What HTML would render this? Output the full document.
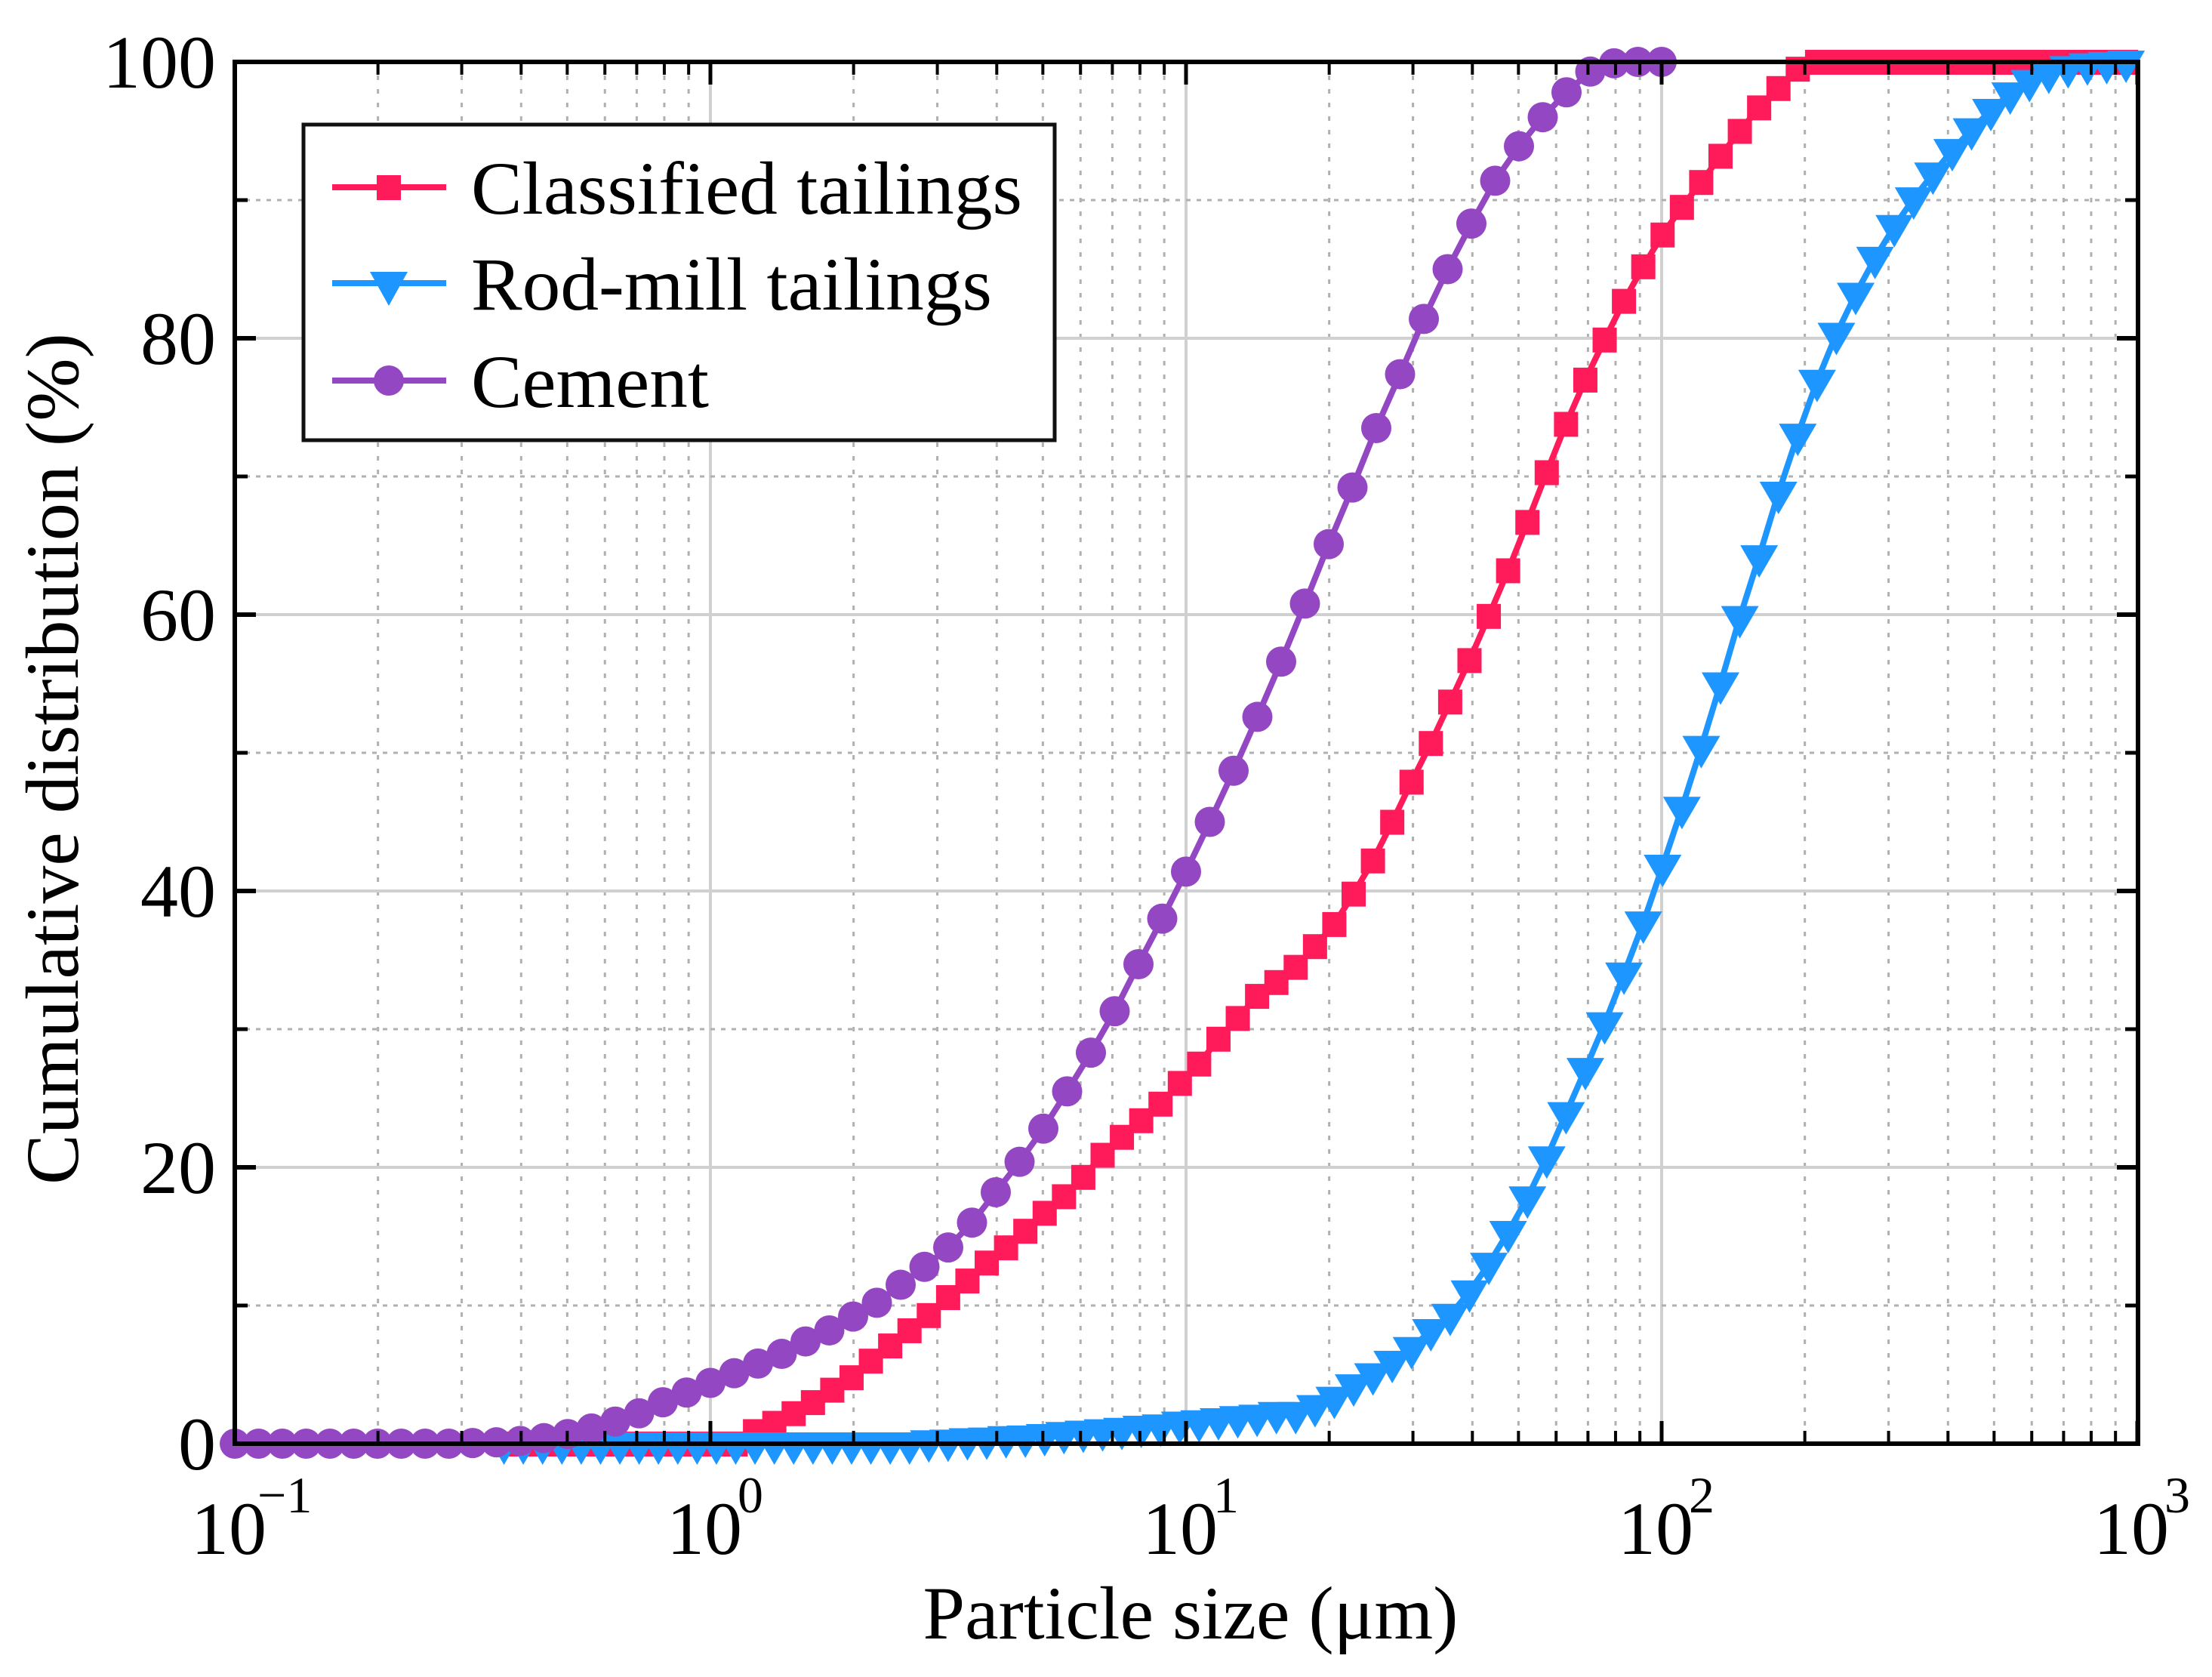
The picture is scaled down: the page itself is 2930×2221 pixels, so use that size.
<!DOCTYPE html>
<html><head><meta charset="utf-8"><title>Cumulative particle size distribution</title>
<style>html,body{margin:0;padding:0;background:#fff}svg{display:block}</style></head>
<body>
<svg id="chart" xmlns="http://www.w3.org/2000/svg" width="2930" height="2221" viewBox="0 0 2930 2221" font-family="'Liberation Serif', serif">
<rect width="2930" height="2221" fill="#fff"/>
<g id="grid"></g>
<g id="series"></g>
<g id="axes"></g>
<text x="0" y="0" font-size="100" text-anchor="middle" transform="translate(103,1005) rotate(-90)">Cumulative distribution (%)</text>
<text x="1577" y="2170" font-size="100" text-anchor="middle">Particle size (μm)</text>
<g>
  <rect x="402" y="165" width="995" height="418" fill="#fff" stroke="#111" stroke-width="5"/>
  <g>
    <line x1="440" y1="248" x2="591" y2="248" stroke="#FF1A5A" stroke-width="8"/>
    <rect x="499" y="232" width="32" height="33" fill="#FF1A5A"/>
    <text x="624" y="283" font-size="100" textLength="730" lengthAdjust="spacingAndGlyphs">Classified tailings</text>
  </g>
  <g>
    <line x1="440" y1="375" x2="591" y2="375" stroke="#1E96FF" stroke-width="8"/>
    <polygon points="490,360 540,360 515,405" fill="#1E96FF"/>
    <text x="624" y="410" font-size="100" textLength="690" lengthAdjust="spacingAndGlyphs">Rod-mill tailings</text>
  </g>
  <g>
    <line x1="440" y1="504" x2="591" y2="504" stroke="#9447C2" stroke-width="8"/>
    <ellipse cx="515" cy="504" rx="20" ry="20" fill="#9447C2"/>
    <text x="624" y="539" font-size="100" textLength="315" lengthAdjust="spacingAndGlyphs">Cement</text>
  </g>
</g>
</svg>
<script>
// ---- data ----
const yTicks = [0, 20, 40, 60, 80, 100];
const yTickLabels = ["0", "20", "40", "60", "80", "100"];
const xDecades = [-1, 0, 1, 2, 3];
const xTickExponents = ["-1", "0", "1", "2", "3"];
// shared sampling grid for tailings (log10 of size)
const tailingsLogStart = -0.434;
const tailingsLogStep = 0.0406;
const cementLogStart = -1;
const cementLogStep = 0.05;
const classifiedValues = [0,0,0,0,0,0,0,0,0,0,0,0,0,
 0.9,1.5,2.2,3.0,3.9,4.8,6.0,7.1,8.2,9.3,10.6,11.8,13.1,14.2,15.4,16.7,17.9,19.3,20.9,22.2,23.4,24.6,26.1,27.5,29.3,30.8,32.4,33.4,34.5,36.0,37.6,39.8,
 42.2,45.0,47.9,50.7,53.7,56.7,59.9,63.2,66.7,70.3,73.8,77.0,79.9,82.7,85.2,87.5,89.5,91.3,93.2,95.0,96.7,98.1,99.5,
 100,100,100,100,100,100,100,100,100,100,100,100,100,100,100,100,100];
const rodMillValues = [0,0,0,0,0,0,0,0,0,0,0,0,0,0,0,0,0,0,0,0,0,0,
 0.15,0.2,0.3,0.35,0.45,0.5,0.6,0.75,0.85,0.95,1.05,1.2,1.3,1.5,1.6,1.75,1.9,2.0,2.2,
 2.2,2.7,3.3,4.2,5.0,5.9,6.9,8.2,9.3,11.0,13.0,15.3,17.8,20.7,23.9,27.1,30.4,34.0,37.7,41.8,46.0,50.4,55.0,59.8,64.2,68.8,73.0,
 76.9,80.3,83.2,85.8,88.1,90.1,91.9,93.6,95.1,96.5,97.7,98.6,99.2,99.6,99.8,99.9,100];
const cementValues = [0,0,0,0,0,0,0,0,0,0,0.05,0.1,0.2,0.4,0.7,1.1,1.6,2.2,3.0,3.7,
 4.4,5.1,5.8,6.5,7.4,8.2,9.2,10.2,11.5,12.8,14.2,16,18.2,20.4,22.8,25.5,28.3,31.3,34.7,38,
 41.4,45,48.7,52.6,56.6,60.8,65.1,69.2,73.5,77.4,81.4,85,88.3,91.4,93.9,96,97.8,99.3,99.9,100,100];

// ---- axes ----
const L = 311, R = 2832, T = 82, B = 1912, DEC = 630;
function xs(logv) { return L + DEC * (logv + 1); }
function ys(p) { return B - (B - T) * p / 100; }
const NS = "http://www.w3.org/2000/svg";
function mk(tag, attrs, parent) {
  const e = document.createElementNS(NS, tag);
  for (const k in attrs) e.setAttribute(k, attrs[k]);
  parent.appendChild(e);
  return e;
}
const grid = document.getElementById('grid');
const axes = document.getElementById('axes');
const series = document.getElementById('series');

// vertical grid
for (let d = -1; d < 3; d++) {
  for (let m = 2; m <= 9; m++) {
    const x = xs(d + Math.log10(m));
    const g = mk('line', {x1: x, y1: T, x2: x, y2: B, stroke: '#b0b0b0', 'stroke-width': 3, 'stroke-dasharray': '6 12'}, grid);
    
    
    for (const [y0, y1] of [[B, B - 17], [T, T + 17]]) {
      const t = mk('line', {x1: x, y1: y0, x2: x, y2: y1, stroke: '#000', 'stroke-width': 4}, axes);
      
      
    }
  }
}
xDecades.forEach((d, i) => {
  const x = xs(d);
  const g = mk('line', {x1: x, y1: T, x2: x, y2: B, stroke: '#d0d0d0', 'stroke-width': 4}, grid);
  
  
  for (const [y0, y1] of [[B, B - 30], [T, T + 30]]) {
    const t = mk('line', {x1: x, y1: y0, x2: x, y2: y1, stroke: '#000', 'stroke-width': 5}, axes);
    
    
  }
  const lab = mk('text', {x: x - 8, y: 2058, 'font-size': 100, 'text-anchor': 'middle'}, axes);
  
  
  lab.textContent = '10';
  const sup = mk('text', {x: x + 36, y: 2003, 'font-size': 68, 'text-anchor': 'start'}, axes);
  
  
  sup.textContent = xTickExponents[i].replace('-', '\u2212');
  if (xTickExponents[i].startsWith('-')) sup.setAttribute('x', x + 30);
});
// horizontal grid
for (let p = 10; p < 100; p += 20) {
  const y = ys(p);
  const g = mk('line', {x1: L, y1: y, x2: R, y2: y, stroke: '#b0b0b0', 'stroke-width': 3, 'stroke-dasharray': '6 8'}, grid);
  
  
  for (const [x0, x1] of [[L, L + 17], [R, R - 17]]) {
    const t = mk('line', {x1: x0, y1: y, x2: x1, y2: y, stroke: '#000', 'stroke-width': 5}, axes);
    
    
  }
}
yTicks.forEach((p, i) => {
  const y = ys(p);
  if (p > 0 && p < 100) {
    const g = mk('line', {x1: L, y1: y, x2: R, y2: y, stroke: '#d0d0d0', 'stroke-width': 4}, grid);
    
    
  }
  for (const [x0, x1] of [[L, L + 28], [R, R - 28]]) {
    const t = mk('line', {x1: x0, y1: y, x2: x1, y2: y, stroke: '#000', 'stroke-width': 6}, axes);
    
    
  }
  const lab = mk('text', {x: 286, y: y + 34, 'font-size': 100, 'text-anchor': 'end'}, axes);
  
  
  lab.textContent = yTickLabels[i];
});
const frame = mk('rect', {x: L, y: T, width: R - L, height: B - T, fill: 'none', stroke: '#000', 'stroke-width': 6}, axes);



// ---- series ----
function drawSeries(values, logStart, logStep, color, marker, name) {
  const g = mk('g', {}, series);
  
  
  const pts = values.map((v, i) => [xs(logStart + i * logStep), ys(v)]);
  const pl = mk('polyline', {points: pts.map(p => p.join(',')).join(' '), fill: 'none', stroke: color, 'stroke-width': 8, 'stroke-linejoin': 'round'}, g);
  
  
  pts.forEach(([x, y]) => {
    let m;
    if (marker === 'square') m = mk('rect', {x: x - 16, y: y - 16, width: 32, height: 33, fill: color}, g);
    else if (marker === 'tri') m = mk('polygon', {points: `${x-25},${y-15} ${x+25},${y-15} ${x},${y+28}`, fill: color}, g);
    else m = mk('ellipse', {cx: x, cy: y, rx: 20, ry: 20, fill: color}, g);
    
    
  });
}
drawSeries(classifiedValues, tailingsLogStart, tailingsLogStep, '#FF1A5A', 'square', 'classified-tailings');
drawSeries(rodMillValues, tailingsLogStart, tailingsLogStep, '#1E96FF', 'tri', 'rod-mill-tailings');
drawSeries(cementValues, cementLogStart, cementLogStep, '#9447C2', 'circle', 'cement');
</script>
</body></html>
